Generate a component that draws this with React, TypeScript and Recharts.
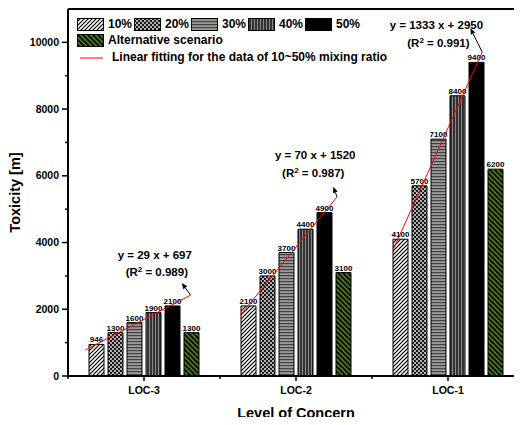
import React from "react";
import {
  BarChart,
  ScatterChart,
  Bar,
  XAxis,
  YAxis,
  ReferenceLine,
  Legend,
  LabelList,
} from "recharts";

const categories = ["LOC-3", "LOC-2", "LOC-1"];
const ratio10 = [946, 2100, 4100];
const ratio20 = [1300, 3000, 5700];
const ratio30 = [1600, 3700, 7100];
const ratio40 = [1900, 4400, 8400];
const ratio50 = [2100, 4900, 9400];
const alternative = [1300, 3100, 6200];
const yTicks = [0, 1000, 2000, 3000, 4000, 5000, 6000, 7000, 8000, 9000, 10000];

// linear fits, end points (mixing ratio in %, toxicity)
const fitStartRatio = [4.2, 5.8, 6.5];
const fitStartValue = [780, 1830, 3830];
const fitEndRatio = [59.5, 56.6, 53];
const fitEndValue = [2425, 5370, 9710];
const fitEquations = ["y = 29 x + 697", "y = 70 x + 1520", "y = 1333 x + 2950"];
const fitR2 = ["0.989", "0.987", "0.991"];
const arrowTipRatio = [54.9, 54.6, 46.8];
const arrowTipValue = [2790, 5670, 10420];

const data = categories.map((loc, i) => ({
  loc,
  r10: ratio10[i],
  r20: ratio20[i],
  r30: ratio30[i],
  r40: ratio40[i],
  r50: ratio50[i],
  alt: alternative[i],
}));

const series = [
  { key: "r10", name: "10%", fill: "url(#pat10)" },
  { key: "r20", name: "20%", fill: "url(#pat20)" },
  { key: "r30", name: "30%", fill: "url(#pat30)" },
  { key: "r40", name: "40%", fill: "url(#pat40)" },
  { key: "r50", name: "50%", fill: "#000" },
  { key: "alt", name: "Alternative scenario", fill: "url(#patAlt)" },
];

const W = 530;
const H = 417;
const MARGIN = { top: 1, right: 14, left: 0, bottom: 0 };
const Y_W = 60;
const X_H = 49;
const PLOT_W = W - Y_W - MARGIN.right;
const BAND = PLOT_W / categories.length;
const SLOTS = 8; // one slot = one bar pitch (15 + 4)
const FONT = "'Liberation Sans', Arial, sans-serif";

// text offsets (px) from each arrow tip
const textOffsets = [
  { dx1: -27, dy1: -28, dx2: -25, dy2: -11 },
  { dx1: -18, dy1: -32, dx2: -20, dy2: -14 },
  { dx1: -34, dy1: -3, dx2: -32, dy2: 15 },
];

const pos = (i: number, ratio: number) => i * SLOTS + 1.5 + (ratio / 10 - 1);

function YTick({ x, y, payload }: any) {
  const v = payload.value;
  const major = v % 2000 === 0;
  return (
    <g>
      <line x1={x - (major ? 6 : 3)} x2={x} y1={y} y2={y} stroke="#000" strokeWidth={1.5} />
      {major && (
        <text x={x - 9} y={y} dy="0.35em" textAnchor="end" fontSize={10.5} fontWeight="bold" fill="#000">
          {v}
        </text>
      )}
    </g>
  );
}

function XTick({ x, y, payload }: any) {
  return (
    <g>
      <line x1={x} x2={x} y1={y} y2={y + 5} stroke="#000" strokeWidth={1.5} />
      <line x1={x - BAND / 2} x2={x - BAND / 2} y1={y} y2={y + 3} stroke="#000" strokeWidth={1.5} />
      <text x={x} y={y + 14} dy="0.35em" textAnchor="middle" fontSize={10.5} fontWeight="bold" fill="#000">
        {payload.value}
      </text>
    </g>
  );
}

function YLabel({ viewBox }: any) {
  const cx = viewBox.x + 7;
  const cy = viewBox.y + viewBox.height / 2;
  return (
    <text
      x={cx}
      y={cy}
      transform={`rotate(-90 ${cx} ${cy})`}
      textAnchor="middle"
      dominantBaseline="central"
      fontSize={14.5}
      fontWeight="bold"
      fill="#000"
    >
      Toxicity [m]
    </text>
  );
}

function XLabel({ viewBox }: any) {
  return (
    <text
      x={viewBox.x + viewBox.width / 2}
      y={viewBox.y + 37}
      textAnchor="middle"
      dominantBaseline="central"
      fontSize={14.5}
      fontWeight="bold"
      fill="#000"
    >
      Level of Concern
    </text>
  );
}

function arrowShape(i: number) {
  return (p: any) => {
    const { x1, y1, x2, y2 } = p;
    const a = Math.atan2(y2 - y1, x2 - x1);
    const c = Math.cos(a);
    const s = Math.sin(a);
    const bx = x2 - 6 * c;
    const by = y2 - 6 * s;
    const o = textOffsets[i];
    return (
      <g>
        <line x1={x1} y1={y1} x2={bx} y2={by} stroke="#000" strokeWidth={1} />
        <polygon
          points={`${x2},${y2} ${bx - 2.5 * s},${by + 2.5 * c} ${bx + 2.5 * s},${by - 2.5 * c}`}
          fill="#000"
        />
        <text x={x2 + o.dx1} y={y2 + o.dy1} dy="0.35em" textAnchor="middle" fontSize={11.5} fontWeight="bold" fill="#000">
          {fitEquations[i]}
        </text>
        <text x={x2 + o.dx2} y={y2 + o.dy2} dy="0.35em" textAnchor="middle" fontSize={11.5} fontWeight="bold" fill="#000">
          (R<tspan dy={-4} fontSize={8}>2</tspan>
          <tspan dy={4}> = {fitR2[i]})</tspan>
        </text>
      </g>
    );
  };
}

function Swatch({ fill }: { fill: string }) {
  return (
    <svg width={27} height={13} style={{ display: "block" }}>
      <rect x={0.5} y={0.5} width={26} height={12} fill={fill} stroke="#000" />
    </svg>
  );
}

function LegendBox() {
  const row = { display: "flex", alignItems: "center" } as const;
  return (
    <div style={{ fontSize: 12, fontWeight: "bold", lineHeight: "13px", fontFamily: FONT }}>
      <div style={row}>
        {series.slice(0, 5).map((s) => (
          <div key={s.key} style={{ ...row, width: 57 }}>
            <Swatch fill={s.fill} />
            <span style={{ marginLeft: 4 }}>{s.name}</span>
          </div>
        ))}
      </div>
      <div style={{ ...row, marginTop: 3 }}>
        <Swatch fill={series[5].fill} />
        <span style={{ marginLeft: 4 }}>{series[5].name}</span>
      </div>
      <div style={{ ...row, marginTop: 4 }}>
        <svg width={30} height={10} style={{ display: "block" }}>
          <line x1={3} x2={26} y1={5} y2={5} stroke="#ff0000" strokeWidth={1} />
        </svg>
        <span style={{ marginLeft: 5 }}>Linear fitting for the data of 10~50% mixing ratio</span>
      </div>
    </div>
  );
}

export default function App() {
  return (
    <div
      style={{
        position: "relative",
        width: 514,
        height: H,
        overflow: "hidden",
        marginBottom: -8,
        fontFamily: FONT,
      }}
    >
      <BarChart width={W} height={H} data={data} margin={MARGIN} barSize={15} barGap={4}>
        <defs>
          <pattern id="pat10" width={4} height={4} patternUnits="userSpaceOnUse">
            <rect width={4} height={4} fill="#fff" />
            <path d="M-1,1 l2,-2 M0,4 l4,-4 M3,5 l2,-2" stroke="#000" strokeWidth={1.2} />
          </pattern>
          <pattern id="pat20" width={4} height={4} patternUnits="userSpaceOnUse">
            <rect width={4} height={4} fill="#1a1a1a" />
            <rect x={0} y={0} width={2} height={2} fill="#b0b0b0" />
            <rect x={2} y={2} width={2} height={2} fill="#b0b0b0" />
          </pattern>
          <pattern id="pat30" width={3} height={3} patternUnits="userSpaceOnUse">
            <rect width={3} height={3} fill="#9a9a9a" />
            <rect width={3} height={1.2} fill="#444" />
          </pattern>
          <pattern id="pat40" width={3} height={3} patternUnits="userSpaceOnUse">
            <rect width={3} height={3} fill="#333" />
            <rect width={1} height={3} fill="#888" />
          </pattern>
          <pattern id="patAlt" width={5} height={5} patternUnits="userSpaceOnUse">
            <rect width={5} height={5} fill="#4f7f16" />
            <path d="M-1,4 l2,2 M0,0 l5,5 M4,-1 l2,2" stroke="#000" strokeWidth={1.8} />
          </pattern>
        </defs>
        <XAxis
          dataKey="loc"
          height={X_H}
          tickSize={0}
          tickMargin={0}
          tickLine={false}
          tick={<XTick />}
          axisLine={{ stroke: "#000", strokeWidth: 2 }}
          label={<XLabel />}
        />
        <YAxis
          width={Y_W}
          domain={[0, 11000]}
          ticks={yTicks}
          interval={0}
          tickSize={0}
          tickMargin={0}
          tickLine={false}
          tick={<YTick />}
          axisLine={{ stroke: "#000", strokeWidth: 2 }}
          label={<YLabel />}
        />
        <Legend
          content={<LegendBox />}
          layout="horizontal"
          verticalAlign="middle"
          align="center"
          wrapperStyle={{ top: 10, left: 69, width: "auto" }}
        />
        <ReferenceLine y={11000} stroke="#000" strokeWidth={2} ifOverflow="visible" />
        {series.map((s) => (
          <Bar key={s.key} dataKey={s.key} name={s.name} fill={s.fill} stroke="#000" strokeWidth={1} isAnimationActive={false}>
            <LabelList
              dataKey={s.key}
              position="top"
              offset={2}
              fontSize={8}
              fontWeight="bold"
              fill="#000"
              style={{ fill: "#000", stroke: "none" }}
            />
          </Bar>
        ))}
      </BarChart>
      <div style={{ position: "absolute", left: 0, top: 0, pointerEvents: "none" }}>
        <ScatterChart
          width={W}
          height={H}
          margin={{ top: MARGIN.top, right: MARGIN.right, left: Y_W, bottom: X_H }}
        >
          <XAxis type="number" dataKey="x" domain={[0, SLOTS * categories.length]} hide allowDataOverflow />
          <YAxis type="number" dataKey="y" domain={[0, 11000]} hide allowDataOverflow />
          {categories.map((c, i) => (
            <ReferenceLine
              key={`fit-${c}`}
              ifOverflow="visible"
              stroke="#ff0000"
              strokeWidth={1}
              segment={[
                { x: pos(i, fitStartRatio[i]), y: fitStartValue[i] },
                { x: pos(i, fitEndRatio[i]), y: fitEndValue[i] },
              ]}
            />
          ))}
          {categories.map((c, i) => (
            <ReferenceLine
              key={`arrow-${c}`}
              ifOverflow="visible"
              segment={[
                { x: pos(i, fitEndRatio[i]), y: fitEndValue[i] },
                { x: pos(i, arrowTipRatio[i]), y: arrowTipValue[i] },
              ]}
              shape={arrowShape(i)}
            />
          ))}
        </ScatterChart>
      </div>
    </div>
  );
}
